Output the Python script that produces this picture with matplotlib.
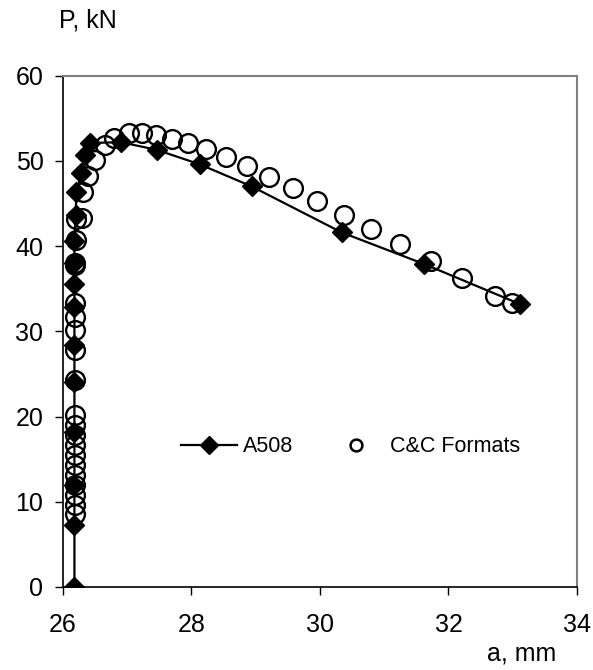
#!/usr/bin/env python3

import matplotlib
matplotlib.use('Agg')
import matplotlib.pyplot as plt
from matplotlib.lines import Line2D

# A508 (line with filled diamonds)
A508_A = [26.18, 26.18, 26.18, 26.18, 26.18, 26.18, 26.18, 26.18, 26.18, 26.18,
          26.2, 26.21, 26.29, 26.35, 26.42, 26.9, 27.46, 28.13, 28.94, 30.34,
          31.62, 33.11]
A508_P = [0, 7.3, 12.0, 18.2, 24.1, 28.4, 32.9, 35.6, 38.0, 40.6,
          43.6, 46.4, 48.6, 50.7, 52.1, 52.2, 51.3, 49.6, 47.0, 41.6,
          37.9, 33.2]

# C&C Formats (open circles)
CC_A = [26.19, 26.19, 26.19, 26.19, 26.19, 26.19, 26.19, 26.19, 26.19, 26.19,
        26.19, 26.19, 26.19, 26.19, 26.19, 26.19, 26.19, 26.19, 26.2, 26.21,
        26.3, 26.31, 26.39, 26.5, 26.65, 26.8, 27.03, 27.23, 27.45, 27.7,
        27.95, 28.23, 28.54, 28.86, 29.2, 29.58, 29.95, 30.37, 30.79, 31.24,
        31.73, 32.21, 32.72, 32.99]
CC_P = [8.5, 9.6, 10.8, 12.0, 13.1, 14.3, 15.5, 16.7, 17.8, 19.0,
        20.2, 24.3, 27.8, 30.1, 31.7, 33.3, 37.8, 38.0, 40.7, 43.2,
        43.3, 46.4, 48.2, 50.1, 51.9, 52.7, 53.3, 53.3, 53.0, 52.6,
        52.1, 51.4, 50.5, 49.4, 48.1, 46.8, 45.3, 43.7, 42.0, 40.2,
        38.3, 36.3, 34.2, 33.3]

X_TICKS = [26, 28, 30, 32, 34]
Y_TICKS = [0, 10, 20, 30, 40, 50, 60]

plt.rcParams['font.family'] = ['Liberation Sans', 'DejaVu Sans']

fig = plt.figure(figsize=(5.93, 6.70), dpi=100)
ax = fig.add_axes([0.106, 0.124, 0.867, 0.763])

ax.plot(CC_A, CC_P, ls='none', marker='o', ms=13.5, mfc='none',
        mec='black', mew=1.7, zorder=3)
ax.plot(A508_A, A508_P, color='black', lw=1.6, marker='D', ms=10.5,
        mfc='black', mec='black', zorder=4)

ax.set_xlim(26, 34)
ax.set_ylim(0, 60)
ax.set_xticks(X_TICKS)
ax.set_yticks(Y_TICKS)
ax.tick_params(axis='both', labelsize=18, direction='out', length=6,
               width=1, color='black')
ax.tick_params(axis='y', pad=8)
ax.tick_params(axis='x', pad=13)

for side in ('left', 'bottom'):
    ax.spines[side].set_color('black')
    ax.spines[side].set_linewidth(1.2)
for side in ('top', 'right'):
    ax.spines[side].set_color('#808080')
    ax.spines[side].set_linewidth(1.5)

fig.text(0.149, 0.970, 'P, kN', fontsize=18, ha='center', va='center')
fig.text(0.879, 0.025, 'a, mm', fontsize=18, ha='center', va='center')

handles = [
    Line2D([], [], color='black', lw=1.6, marker='D', ms=9, mfc='black'),
    Line2D([], [], ls='none', marker='o', ms=8.5, mfc='none', mec='black', mew=1.8),
]
ax.legend(handles, ['A508', 'C&C Formats'], loc='center',
          bbox_to_anchor=(0.56, 0.274), ncol=2, frameon=False,
          fontsize=15.5, handlelength=2.6, columnspacing=1.6, handletextpad=0.3)

fig.savefig('out.png', dpi=100)
